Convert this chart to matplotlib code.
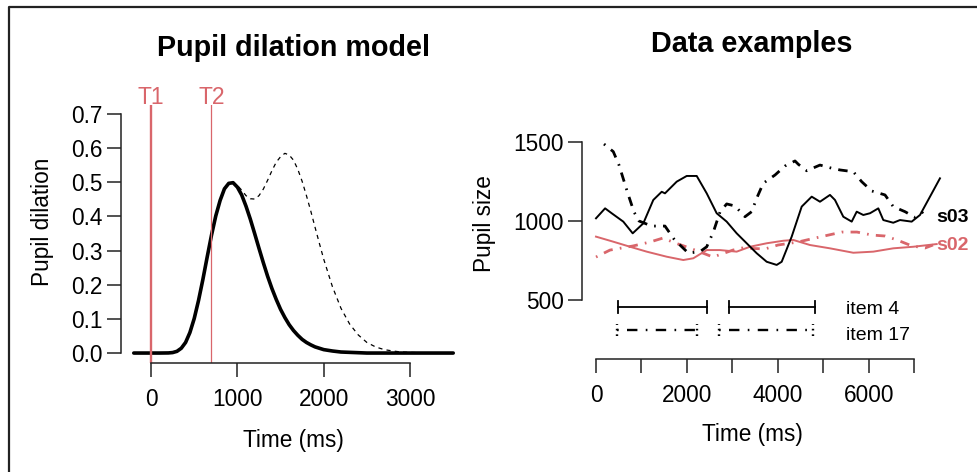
import matplotlib
matplotlib.use("Agg")
import matplotlib.pyplot as plt
from matplotlib.lines import Line2D

plt.rcParams["font.family"] = ["Liberation Sans", "DejaVu Sans"]
plt.rcParams["lines.scale_dashes"] = False

W, H = 977, 472
RED = "#D9666B"

# ---- left panel: model pupil response
model_t = [-200, 0, 100, 200, 250, 300, 350, 400, 450, 500, 550, 600, 650, 700, 750,
           800, 850, 900, 950, 1000, 1050, 1100, 1150, 1200, 1250, 1300, 1350, 1400,
           1450, 1500, 1550, 1600, 1650, 1700, 1750, 1800, 1850, 1900, 1950, 2000,
           2100, 2200, 2300, 2400, 2500, 2600, 2700, 2800, 2900, 3000, 3200, 3500]
resp_t1 = [0, 0, 0, 0.0003, 0.0014, 0.005, 0.014, 0.031, 0.060, 0.101, 0.154, 0.215,
           0.281, 0.345, 0.402, 0.447, 0.481, 0.497, 0.499, 0.486, 0.463, 0.430, 0.392,
           0.350, 0.307, 0.265, 0.225, 0.189, 0.157, 0.128, 0.104, 0.083, 0.066, 0.052,
           0.040, 0.031, 0.024, 0.018, 0.014, 0.010, 0.006, 0.003, 0.002, 0.001, 0,
           0, 0, 0, 0, 0, 0, 0]
resp_both = [0, 0, 0, 0.0003, 0.0014, 0.005, 0.014, 0.031, 0.060, 0.101, 0.154, 0.215,
             0.281, 0.345, 0.402, 0.447, 0.481, 0.497, 0.500, 0.491, 0.477, 0.461, 0.452,
             0.451, 0.461, 0.480, 0.506, 0.534, 0.559, 0.575, 0.585, 0.580, 0.565, 0.538,
             0.503, 0.461, 0.416, 0.368, 0.321, 0.275, 0.195, 0.131, 0.085, 0.053, 0.031,
             0.018, 0.010, 0.006, 0.003, 0.002, 0, 0]
onsets = [0, 700]
onset_labels = ["T1", "T2"]
onset_widths = [1.7, 0.9]

# ---- right panel: example traces
s03_item4_t = [0, 200, 345, 600, 807, 1040, 1260, 1445, 1517, 1775, 1995, 2215, 2435,
               2654, 2874, 3094, 3314, 3534, 3754, 3974, 4084, 4304, 4524, 4744, 4926,
               5146, 5256, 5439, 5624, 5734, 5879, 6026, 6209, 6319, 6538, 6686, 6943,
               7126, 7346, 7565]
s03_item4_v = [1017, 1080, 1049, 996, 922, 985, 1133, 1185, 1175, 1249, 1285, 1285, 1175,
               1049, 996, 922, 859, 796, 742, 722, 742, 901, 1091, 1154, 1122, 1165, 1133,
               1027, 996, 1059, 1038, 1049, 1080, 1006, 989, 1006, 996, 1038, 1154, 1270]
s03_item17_t = [176, 380, 506, 697, 836, 946, 1225, 1517, 1700, 1847, 2030, 2287, 2435,
                2580, 2727, 2874, 3057, 3277, 3424, 3534, 3679, 3937, 4157, 4377, 4449,
                4634, 4926, 5184, 5366, 5659, 5843, 6063, 6356, 6538, 6796, 7016, 7198]
s03_item17_v = [1487, 1439, 1354, 1177, 1057, 1000, 968, 968, 891, 848, 797, 806, 837,
                930, 1057, 1108, 1095, 1027, 1059, 1144, 1239, 1291, 1348, 1380, 1359,
                1318, 1354, 1334, 1323, 1312, 1249, 1190, 1165, 1091, 1059, 1023, 1059]
s02_item4_t = [0, 380, 748, 1115, 1555, 1920, 2140, 2435, 2727, 3094, 3387, 3754, 4119,
               4339, 4706, 5146, 5659, 6099, 6538, 6978, 7493]
s02_item4_v = [901, 869, 837, 806, 774, 753, 764, 816, 816, 806, 837, 859, 875, 880, 848,
               827, 799, 806, 827, 837, 854]
s02_item17_t = [0, 308, 814, 1188, 1473, 1738, 2001, 2287, 2573, 3013, 3211, 3717, 4003,
                4443, 4817, 5410, 5740, 6070, 6356, 6620, 6950, 7236, 7412]
s02_item17_v = [772, 816, 842, 867, 892, 861, 835, 804, 772, 816, 829, 823, 848, 867, 892,
                930, 930, 911, 905, 880, 842, 829, 848]

# word intervals shown under the traces
item4_start, item4_end = [480, 2930], [2440, 4820]
item17_start, item17_end = [470, 2710], [2215, 4780]
item4_y, item17_y = 456, 310

DASHDOT = (0, (1.2, 5.2, 6.8, 5.2))


def box(l, t, r, b):
    return [l / W, 1 - b / H, (r - l) / W, (b - t) / H]


def ftext(px, py, s, **kw):
    fig.text(px / W, 1 - py / H, s, **kw)


def r_style(ax, xb, yb):
    ax.set_facecolor("none")
    for s in ("top", "right"):
        ax.spines[s].set_visible(False)
    ax.spines["left"].set_bounds(*yb)
    ax.spines["bottom"].set_bounds(*xb)
    for s in ("left", "bottom"):
        ax.spines[s].set_linewidth(1.1)
        ax.spines[s].set_color("#222222")
    ax.tick_params(length=10, width=1.1, color="#222222", labelsize=16.3)
    ax.tick_params(axis="x", pad=8)
    ax.tick_params(axis="y", pad=3)


fig = plt.figure(figsize=(W / 100, H / 100), dpi=100)

# outer frame (left and top edges only are visible)
fig.add_artist(Line2D([9 / W, 9 / W, 1], [0, 1 - 7 / H, 1 - 7 / H],
                      transform=fig.transFigure, color="#222222", lw=1.6))

# ---------------- left: model
ax1 = fig.add_axes(box(121, 104.5, 466, 362.6))
ax1.set_xlim(-348, 3648)
ax1.set_ylim(-0.028, 0.728)
ax1.plot(model_t, resp_both, color="black", lw=0.9, ls=(0, (3, 3)))
ax1.plot(model_t, resp_t1, color="black", lw=2.6, solid_capstyle="round")
for x, lab, lw in zip(onsets, onset_labels, onset_widths):
    ax1.axvline(x, color=RED, lw=lw)
    ax1.text(x, 1.0, lab, transform=ax1.get_xaxis_transform(), color=RED,
             fontsize=16.5, ha="center", va="baseline")
ax1.set_xticks([0, 1000, 2000, 3000])
ax1.set_yticks([0.0, 0.1, 0.2, 0.3, 0.4, 0.5, 0.6, 0.7])
ax1.set_yticklabels([f"{v:.1f}" for v in ax1.get_yticks()])
r_style(ax1, (0, 3000), (0, 0.7))

ftext(293.5, 56.5, "Pupil dilation model", fontsize=20.7, fontweight="bold",
      ha="center", va="baseline")
ftext(293.5, 440, "Time (ms)", fontsize=16.3, ha="center", va="center")
ftext(43, 222, "Pupil dilation", fontsize=16.3, rotation=90, ha="center", va="center")

# ---------------- right: data examples
ax2 = fig.add_axes(box(582, 81, 922, 359))
ax2.set_xlim(-308, 7170)
ax2.set_ylim(126.6, 1886)
ax2.plot(s02_item4_t, s02_item4_v, color=RED, lw=1.4, clip_on=False)
ax2.plot(s02_item17_t, s02_item17_v, color=RED, lw=2.0, ls=DASHDOT, clip_on=False)
ax2.plot(s03_item4_t, s03_item4_v, color="black", lw=1.4, clip_on=False)
ax2.plot(s03_item17_t, s03_item17_v, color="black", lw=2.0, ls=DASHDOT, clip_on=False)

for a, b in zip(item4_start, item4_end):
    ax2.plot([a, b], [item4_y, item4_y], color="black", lw=1.3)
    for x in (a, b):
        ax2.plot([x, x], [item4_y - 40, item4_y + 40], color="black", lw=1.3)
for a, b in zip(item17_start, item17_end):
    ax2.plot([a, b], [item17_y, item17_y], color="black", lw=1.7,
             ls=(0, (1.2, 6, 7.5, 6)))
    for x in (a, b):
        ax2.plot([x, x], [item17_y - 40, item17_y + 40], color="black", lw=1.7,
                 ls=(0, (1.2, 2.8)))

ax2.set_xticks(range(0, 7001, 1000))
ax2.set_xticklabels([str(v) if v % 2000 == 0 else "" for v in range(0, 7001, 1000)])
ax2.set_yticks([500, 1000, 1500])
r_style(ax2, (0, 7000), (500, 1500))

ftext(845.7, 314, "item 4", fontsize=14, ha="left", va="baseline")
ftext(845.7, 340.5, "item 17", fontsize=14, ha="left", va="baseline")
ftext(936.7, 221.7, "s03", fontsize=14, fontweight="bold", ha="left", va="baseline")
ftext(936.7, 250, "s02", fontsize=14, fontweight="bold", color=RED, ha="left",
      va="baseline")

ftext(752, 52.5, "Data examples", fontsize=20.7, fontweight="bold", ha="center",
      va="baseline")
ftext(752, 435, "Time (ms)", fontsize=16.3, ha="center", va="center")
ftext(484, 224, "Pupil size", fontsize=16.3, rotation=90, ha="center", va="center")

fig.savefig("out.png", dpi=100)
